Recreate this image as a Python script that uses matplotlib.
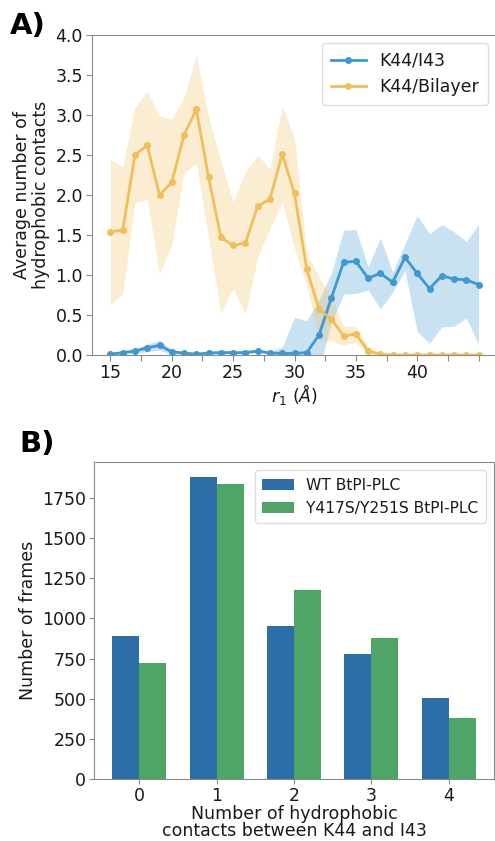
import numpy as np
import matplotlib
matplotlib.use("Agg")
import matplotlib.pyplot as plt

# ---- Panel A data ----
r1 = list(range(15, 46))
i43_mean = [0.01, 0.03, 0.05, 0.09, 0.12, 0.04, 0.025, 0.01, 0.025, 0.03, 0.03, 0.03, 0.05, 0.025, 0.02,
            0.02, 0.03, 0.25, 0.71, 1.16, 1.17, 0.96, 1.02, 0.91, 1.22, 1.02, 0.83, 0.99, 0.95, 0.94, 0.88]
i43_sd = [0.01, 0.02, 0.03, 0.05, 0.06, 0.03, 0.015, 0.01, 0.015, 0.015, 0.015, 0.015, 0.02, 0.02, 0.08,
          0.45, 0.40, 0.44, 0.31, 0.40, 0.40, 0.145, 0.445, 0.125, 0.17, 0.725, 0.685, 0.64, 0.59, 0.48, 0.75]
bil_mean = [1.54, 1.56, 2.50, 2.62, 2.00, 2.16, 2.75, 3.07, 2.22, 1.47, 1.37, 1.40, 1.86, 1.95, 2.51,
            2.02, 1.07, 0.57, 0.45, 0.24, 0.26, 0.05, 0.01, 0.0, 0.0, 0.0, 0.0, 0.0, 0.0, 0.0, 0.0]
bil_sd = [0.91, 0.79, 0.60, 0.67, 0.99, 0.79, 0.47, 0.68, 0.76, 0.95, 0.54, 0.89, 0.64, 0.37, 0.60,
          0.69, 0.20, 0.40, 0.27, 0.12, 0.10, 0.05, 0.01, 0.0, 0.0, 0.0, 0.0, 0.0, 0.0, 0.0, 0.0]

# ---- Panel B data ----
contacts = [0, 1, 2, 3, 4]
wt_frames = [887, 1881, 950, 777, 503]
mut_frames = [725, 1839, 1174, 877, 378]
series_labels_A = ["K44/I43", "K44/Bilayer"]
series_labels_B = ["WT BtPI-PLC", "Y417S/Y251S BtPI-PLC"]

plt.rcParams['font.family'] = ['DejaVu Sans']
TXT = '#1a1a1a'
SPINE = '#8a8a8a'

fig = plt.figure(figsize=(4.95, 8.41), dpi=100)

# ---------- Panel A ----------
axA = fig.add_axes([92/495, 1-355/841, 405/495, 320/841])
blue = '#3d98d3'
orange = '#f0bf5c'
x = np.array(r1)
m1, s1 = np.array(i43_mean), np.array(i43_sd)
m2, s2 = np.array(bil_mean), np.array(bil_sd)
axA.fill_between(x, m1 - s1, m1 + s1, color=blue, alpha=0.28, lw=0)
axA.fill_between(x, m2 - s2, m2 + s2, color=orange, alpha=0.28, lw=0)
axA.plot(x, m1, '-o', color=blue, lw=2, ms=4, label=series_labels_A[0])
axA.plot(x, m2, '-o', color=orange, lw=2, ms=4, label=series_labels_A[1])
axA.set_ylim(0, 4.0)
axA.set_xlim(13.5, 46.5)
axA.set_yticks(np.arange(0, 4.01, 0.5))
xt = np.arange(15, 45.1, 2.5)
axA.set_xticks(xt)
axA.set_xticklabels([str(int(v)) if (v % 5 == 0 and v < 45) else '' for v in xt])
axA.tick_params(labelsize=12.5, colors=TXT, length=4, color=SPINE, pad=2.5)
axA.set_ylabel('Average number of\nhydrophobic contacts', fontsize=12.5, color=TXT, labelpad=4,
               linespacing=1.05)
axA.set_xlabel(r'$r_1\ (\AA)$', fontsize=12.5, color=TXT, labelpad=0)
for sp in axA.spines.values():
    sp.set_color(SPINE)
leg = axA.legend(loc='upper right', bbox_to_anchor=(0.978, 0.975), borderaxespad=0, fontsize=12.5,
                 framealpha=1, edgecolor='#dddddd', handlelength=2.0, borderpad=0.5)
for t in leg.get_texts():
    t.set_color(TXT)

# ---------- Panel B ----------
axB = fig.add_axes([94/495, 1-779/841, 400/495, 317.3/841])
w = 0.35
xb = np.array(contacts)
axB.bar(xb - w/2, wt_frames, w, color='#2d6ea8', label=series_labels_B[0])
axB.bar(xb + w/2, mut_frames, w, color='#4fa567', label=series_labels_B[1])
axB.set_xticks(contacts)
axB.set_yticks([0, 250, 500, 750, 1000, 1250, 1500, 1750])
axB.tick_params(labelsize=12.5, colors=TXT, length=3.5, color=SPINE, pad=2)
axB.set_ylabel('Number of frames', fontsize=12.5, color=TXT, labelpad=4)
axB.set_xlabel('Number of hydrophobic\ncontacts between K44 and I43', fontsize=12.5,
               color=TXT, labelpad=0, linespacing=0.95)
for sp in axB.spines.values():
    sp.set_color(SPINE)
legB = axB.legend(loc='upper right', bbox_to_anchor=(0.98, 0.974), borderaxespad=0, fontsize=11.2,
                  framealpha=1, edgecolor='#dddddd', handlelength=2.0, borderpad=0.5)
for t in legB.get_texts():
    t.set_color(TXT)

fig.text(10/495, 1-12/841, 'A)', fontsize=21, fontweight='bold', va='top', ha='left', color='black')
fig.text(19/495, 1-430/841, 'B)', fontsize=21, fontweight='bold', va='top', ha='left', color='black')

fig.savefig('out.png', dpi=100)
